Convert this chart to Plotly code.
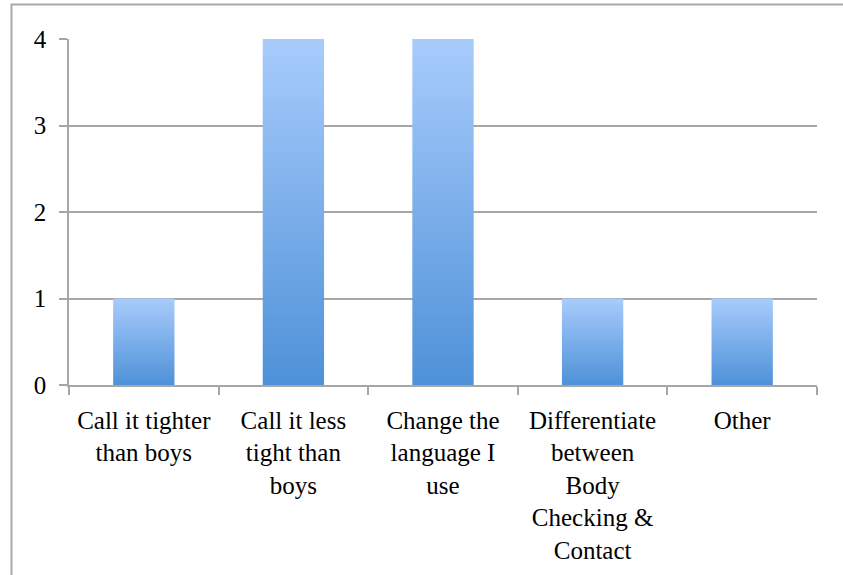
import plotly.graph_objects as go

categories = ["Call it tighter than boys", "Call it less tight than boys",
              "Change the language I use",
              "Differentiate between Body Checking & Contact", "Other"]
tick_labels = ["Call it tighter<br>than boys", "Call it less<br>tight than<br>boys",
               "Change the<br>language I<br>use",
               "Differentiate<br>between<br>Body<br>Checking &amp;<br>Contact", "Other"]
values = [1, 4, 4, 1, 1]
y_ticks = [0, 1, 2, 3, 4]

BAR_W = 0.41
FONT = "Liberation Serif"
GRID = "#a6a6a6"

fig = go.Figure()
for i, v in enumerate(values):
    xs = [i - BAR_W / 2, i + BAR_W / 2, i + BAR_W / 2, i - BAR_W / 2, i - BAR_W / 2]
    ys = [0, 0, v, v, 0]
    fig.add_trace(go.Scatter(
        x=xs, y=ys, mode="lines", fill="toself", name=categories[i],
        line=dict(width=0, color="rgba(0,0,0,0)"),
        fillgradient=dict(type="vertical", start=0, stop=v,
                          colorscale=[[0, "#4e91d8"], [1, "#a8ccfc"]]),
        showlegend=False, hoverinfo="skip"))

fig.update_layout(
    width=843, height=575,
    margin=dict(l=69, r=26, t=39, b=190),
    plot_bgcolor="white", paper_bgcolor="white",
    font=dict(family=FONT, size=25, color="black"),
    xaxis=dict(range=[-0.5, 4.5], tickmode="array", tickvals=list(range(len(values))),
               ticktext=tick_labels, ticks="", showgrid=False, zeroline=False,
               showline=True, linecolor=GRID, linewidth=1.5,
               ticklabelstandoff=12,
               minor=dict(tickmode="array", tickvals=[k - 0.5 for k in range(len(values) + 1)],
                          ticks="outside", ticklen=8, tickwidth=1.5, tickcolor=GRID,
                          showgrid=False),
               tickfont=dict(family=FONT, size=25), fixedrange=True),
    yaxis=dict(range=[0, 4], tickmode="array", tickvals=y_ticks,
               ticks="outside", ticklen=8, tickwidth=1.5, tickcolor=GRID,
               showgrid=True, gridcolor=GRID, gridwidth=1.5, zeroline=False,
               showline=True, linecolor=GRID, linewidth=1.5,
               ticklabelstandoff=8,
               tickfont=dict(family=FONT, size=25), fixedrange=True),
    shapes=[dict(type="rect", xref="paper", yref="paper",
                 x0=(11.5 - 69) / 748, x1=(880 - 69) / 748,
                 y0=(385 - 620) / 346, y1=(385 - 4.5) / 346,
                 line=dict(color="#aaaaaa", width=2), fillcolor="rgba(0,0,0,0)",
                 layer="below")],
)

fig.write_html("out.html", config={"displayModeBar": False},
               post_script="document.body.style.margin='0px';")
